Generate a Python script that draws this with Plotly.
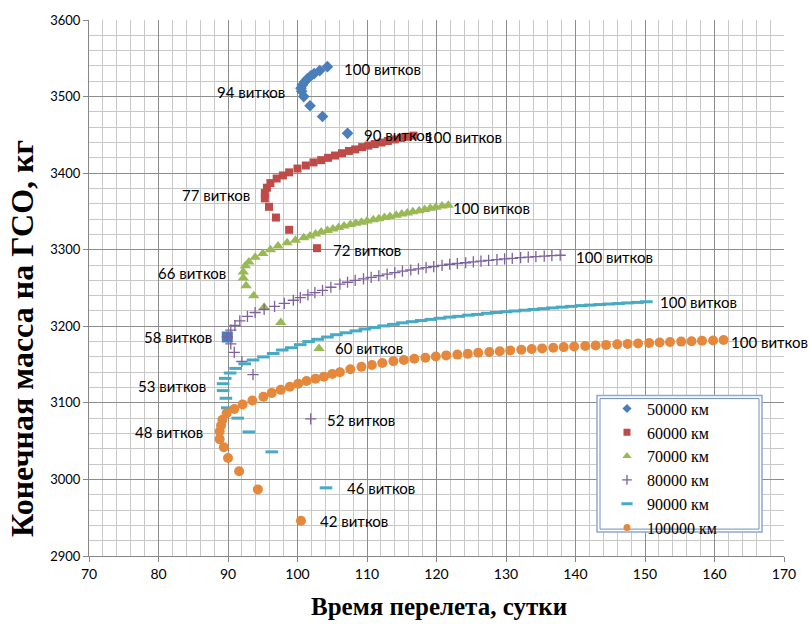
import plotly.graph_objects as go

# ---------------- data ----------------
series_names = ["50000 км", "60000 км", "70000 км", "80000 км", "90000 км", "100000 км"]

t_50 = [107.2, 103.6, 101.8, 100.9, 100.6, 100.5, 100.7, 101.0, 101.4, 101.9, 102.4, 103.2, 104.3]
m_50 = [3452, 3474, 3488, 3500, 3507, 3511, 3515, 3519, 3523, 3527, 3530, 3534, 3539]

t_60 = [102.8, 98.8, 96.9, 95.9, 95.3, 95.3, 95.6, 96.1, 97.0, 97.9, 98.8, 100.0, 101.2, 102.3,
        103.4, 104.4, 105.4, 106.4, 107.4, 108.3, 109.3, 110.2, 111.1, 112.1, 113.0, 114.0,
        114.9, 115.8, 116.7]
m_60 = [3302, 3326, 3342, 3356, 3367, 3374, 3381, 3387, 3393, 3397, 3401, 3406, 3410, 3414,
        3417, 3420, 3423, 3426, 3429, 3431, 3434, 3436, 3438, 3440, 3442, 3444,
        3446, 3447.5, 3449]

t_70 = [103.1, 97.6, 95.2, 93.7, 92.6, 92.2, 92.2, 92.5, 93.0, 93.9, 95.0, 96.1, 97.2, 98.5,
        99.7, 100.9, 101.8, 102.6, 103.4, 104.3, 105.1, 105.9, 106.7, 107.6, 108.4, 109.2,
        110.0, 110.9, 111.7, 112.5, 113.3, 114.2, 115.0, 115.8, 116.6, 117.5, 118.3, 119.1,
        119.9, 120.8, 121.7]
m_70 = [3171, 3205, 3225, 3240, 3253, 3263, 3271, 3279, 3284, 3290, 3295, 3300, 3305, 3309,
        3312.5, 3315.5, 3318, 3320.5, 3323, 3325, 3327, 3329, 3331, 3333, 3334.5, 3336,
        3337.5, 3339, 3340.5, 3342, 3343.5, 3345, 3346.5, 3348, 3349.5, 3351, 3352.5, 3354,
        3355.5, 3357, 3358]

t_80 = [101.9, 93.6, 92.0, 90.9, 90.4, 89.9, 90.4, 91.0, 91.7, 92.8, 93.9, 95.2, 96.7, 98.1,
        99.4, 100.4, 101.5, 102.5, 103.6, 104.8, 106.1, 107.2, 108.3, 109.5, 110.6, 111.7,
        112.9, 114.0, 115.1, 116.3, 117.4, 118.5, 119.6, 120.8, 121.9, 123.0, 124.2, 125.3,
        126.4, 127.5, 128.7, 129.8, 130.9, 132.1, 133.2, 134.3, 135.5, 136.6, 137.8]
m_80 = [3079, 3137, 3154, 3166, 3177, 3186, 3195, 3201, 3207, 3213, 3218, 3222, 3226, 3230,
        3234, 3237.5, 3241, 3244, 3247, 3251, 3255, 3257.5, 3260, 3262, 3264, 3266,
        3268, 3270, 3272, 3273.5, 3275, 3276.5, 3278, 3279.5, 3281, 3282, 3283, 3284,
        3285, 3286, 3287, 3288, 3288.8, 3289.6, 3290.3, 3291, 3291.7, 3292.3, 3292.8]

t_90 = [104.1, 96.3, 93.0, 91.4, 89.9, 89.7, 89.3, 89.3, 89.6, 90.3, 91.1, 92.4, 93.6, 95.1,
        96.5, 97.8, 99.1, 100.4, 101.6, 102.9, 104.3, 105.6, 107.0, 108.4, 109.7, 111.1,
        112.4, 113.8, 115.1, 116.5, 117.8, 119.2, 120.5, 121.9, 123.2, 124.6, 125.9, 127.3,
        128.6, 130.0, 131.3, 132.7, 134.0, 135.4, 136.7, 138.1, 139.4, 140.8, 142.1, 143.5,
        144.8, 146.2, 147.5, 148.9, 150.2]
m_90 = [2989, 3036, 3062, 3080, 3093.5, 3106, 3116, 3125, 3132, 3139, 3145, 3151, 3156, 3160,
        3164.5, 3169, 3172, 3176, 3180, 3183, 3186, 3189, 3191.5, 3194, 3196.5, 3198.5,
        3200.5, 3202.5, 3204.5, 3206, 3207.5, 3209, 3210.5, 3212, 3213, 3214.5, 3215.5, 3217,
        3218, 3219, 3220, 3221, 3222, 3223, 3224, 3225, 3226, 3227, 3227.7, 3228.4,
        3229.1, 3229.8, 3230.5, 3231.2, 3232]

t_100 = [100.5, 94.3, 91.6, 90.0, 89.4, 88.8, 88.8, 89.0, 89.2, 89.8, 90.9, 92.1, 93.5, 95.1,
         96.3, 97.6, 98.9, 100.1, 101.3, 102.6, 103.8, 105.0, 106.1, 107.6, 109.2, 110.7,
         112.2, 113.8, 115.3, 116.8, 118.4, 119.9, 121.4, 123.0, 124.5, 126.0, 127.6, 129.1,
         130.6, 132.2, 133.7, 135.2, 136.8, 138.3, 139.8, 141.4, 142.9, 144.4, 146.0, 147.5,
         149.0, 150.6, 152.1, 153.6, 155.2, 156.7, 158.2, 159.8, 161.3]
m_100 = [2946, 2987, 3010.6, 3028, 3042, 3052.6, 3062.6, 3070.5, 3078, 3086.5, 3092, 3098, 3103, 3108,
         3113, 3117, 3121, 3125, 3128.6, 3131.6, 3134, 3137.7, 3140, 3144, 3147, 3149.5,
         3152, 3154.5, 3156, 3157.5, 3159, 3160.5, 3162, 3163, 3164, 3165.5, 3166.5, 3167.5,
         3168.5, 3169.5, 3170.3, 3171.1, 3172, 3172.8, 3173.5, 3174.3, 3175, 3175.7, 3176.4, 3177,
         3177.6, 3178.2, 3178.8, 3179.4, 3180, 3180.5, 3181, 3181.5, 3182]

# highlighted point (58 витков)
t_mark = [89.9]
m_mark = [3186]

# data labels: text, time, mass
label_text = ["100 витков", "94 витков", "90 витков", "100 витков", "77 витков", "72 витков",
              "100 витков", "66 витков", "100 витков", "100 витков", "58 витков", "60 витков",
              "100 витков", "53 витков", "52 витков", "48 витков", "46 витков", "42 витков"]
label_t = [106.45, 98.45, 109.24, 118.06, 93.41, 104.78, 122.04, 90.04, 139.78, 151.91,
           88.03, 105.15, 162.13, 87.17, 103.96, 86.69, 106.83, 102.95]
label_m = [3536.6, 3505.4, 3450, 3447.8, 3371.9, 3299, 3354.5, 3269.9, 3290.8, 3231.8,
           3185.4, 3171, 3180, 3122.5, 3077.9, 3061.8, 2988.5, 2945.6]
label_side = ["left", "right", "left", "left", "right", "left", "left", "right", "left", "left",
              "right", "left", "left", "right", "left", "right", "left", "left"]

x_ticks = [70, 80, 90, 100, 110, 120, 130, 140, 150, 160, 170]
y_ticks = [2900, 3000, 3100, 3200, 3300, 3400, 3500, 3600]

# ---------------- styling ----------------
colors = ["#4A7EBB", "#BE4B48", "#98B954", "#7D60A0", "#46AAC5", "#E5883C"]
symbols = ["diamond", "square", "triangle-up", "cross-thin", "line-ew", "circle"]
sizes = [9, 8, 10, 8, 9, 10]
legend_sizes = [7, 7, 8, 7, 8, 7]


def marker_for(sym, size, col):
    if sym == "cross-thin":
        return dict(symbol=sym, size=size, color=col, line=dict(color=col, width=1.3))
    if sym == "line-ew":
        return dict(symbol=sym, size=size, color=col, line=dict(color=col, width=3))
    return dict(symbol=sym, size=size, color=col, line=dict(width=0))


fig = go.Figure()

fig.add_trace(go.Scatter(x=t_mark, y=m_mark, mode="markers", showlegend=False,
                         marker=dict(symbol="square", size=11, color="#4A7EBB"),
                         hoverinfo="skip"))

all_t = [t_50, t_60, t_70, t_80, t_90, t_100]
all_m = [m_50, m_60, m_70, m_80, m_90, m_100]
for name, tx, my, c, s, sz in zip(series_names, all_t, all_m, colors, symbols, sizes):
    fig.add_trace(go.Scatter(x=tx, y=my, mode="markers", name=name, showlegend=False,
                             legendgroup=name, marker=marker_for(s, sz, c)))

# legend entries (smaller symbols, as in the original legend)
for name, c, s, sz in zip(series_names, colors, symbols, legend_sizes):
    fig.add_trace(go.Scatter(x=[None], y=[None], mode="markers", name=name, legendgroup=name,
                             marker=marker_for(s, sz, c)))

for txt, lx, ly, side in zip(label_text, label_t, label_m, label_side):
    fig.add_annotation(x=lx, y=ly, xref="x", yref="y", text=txt, showarrow=False,
                       xanchor=side, yanchor="middle",
                       font=dict(family="Lato", size=15, color="#000000"))

# axis titles
fig.add_annotation(x=-0.0964, y=0.405, xref="paper", yref="paper",
                   text="<b>Конечная масса на ГСО, кг</b>", showarrow=False, textangle=-90,
                   xanchor="center", yanchor="middle",
                   font=dict(family="Liberation Serif", size=32, color="#000000"))
fig.add_annotation(x=0.5036, y=-0.0948, xref="paper", yref="paper",
                   text="<b>Время перелета, сутки</b>", showarrow=False,
                   xanchor="center", yanchor="middle",
                   font=dict(family="Liberation Serif", size=25, color="#000000"))

# legend frame (double line)
fig.add_shape(type="rect", xref="paper", yref="paper",
              x0=(597 - 89) / 695, x1=(762 - 89) / 695, y0=(556 - 532) / 538, y1=(556 - 395) / 538,
              line=dict(color="#8EA9D0", width=1.5), fillcolor="white", layer="above")
fig.add_shape(type="rect", xref="paper", yref="paper",
              x0=(600 - 89) / 695, x1=(759 - 89) / 695, y0=(556 - 529) / 538, y1=(556 - 398) / 538,
              line=dict(color="#6E8FC2", width=1), layer="above")

fig.update_layout(
    width=811, height=624,
    margin=dict(l=89, r=27, t=18, b=68, pad=0),
    paper_bgcolor="white", plot_bgcolor="white",
    showlegend=True,
    legend=dict(x=(607 - 89) / 695, y=(556 - 391) / 538, xanchor="left", yanchor="top",
                bgcolor="rgba(0,0,0,0)", borderwidth=0,
                font=dict(family="Liberation Serif", size=16, color="#000000"),
                itemsizing="trace", tracegroupgap=0),
    font=dict(family="Lato", size=14, color="#000000"),
)

fig.update_xaxes(range=[70, 170], tickvals=x_ticks, ticktext=[str(v) for v in x_ticks],
                 showgrid=True, gridcolor="#8C8C8C", gridwidth=1,
                 minor=dict(dtick=2, showgrid=True, gridcolor="#C8C8C8", gridwidth=1, ticks=""),
                 showline=True, linecolor="#868686", linewidth=1,
                 ticks="outside", ticklen=5, tickcolor="#868686",
                 tickfont=dict(family="Lato", size=14), zeroline=False)
fig.update_yaxes(range=[2900, 3600], tickvals=y_ticks, ticktext=[str(v) for v in y_ticks],
                 showgrid=True, gridcolor="#8C8C8C", gridwidth=1,
                 minor=dict(dtick=20, showgrid=True, gridcolor="#C8C8C8", gridwidth=1, ticks=""),
                 showline=True, linecolor="#868686", linewidth=1,
                 ticks="outside", ticklen=5, tickcolor="#868686",
                 tickfont=dict(family="Lato", size=13), zeroline=False)

fig.write_html("out.html")
